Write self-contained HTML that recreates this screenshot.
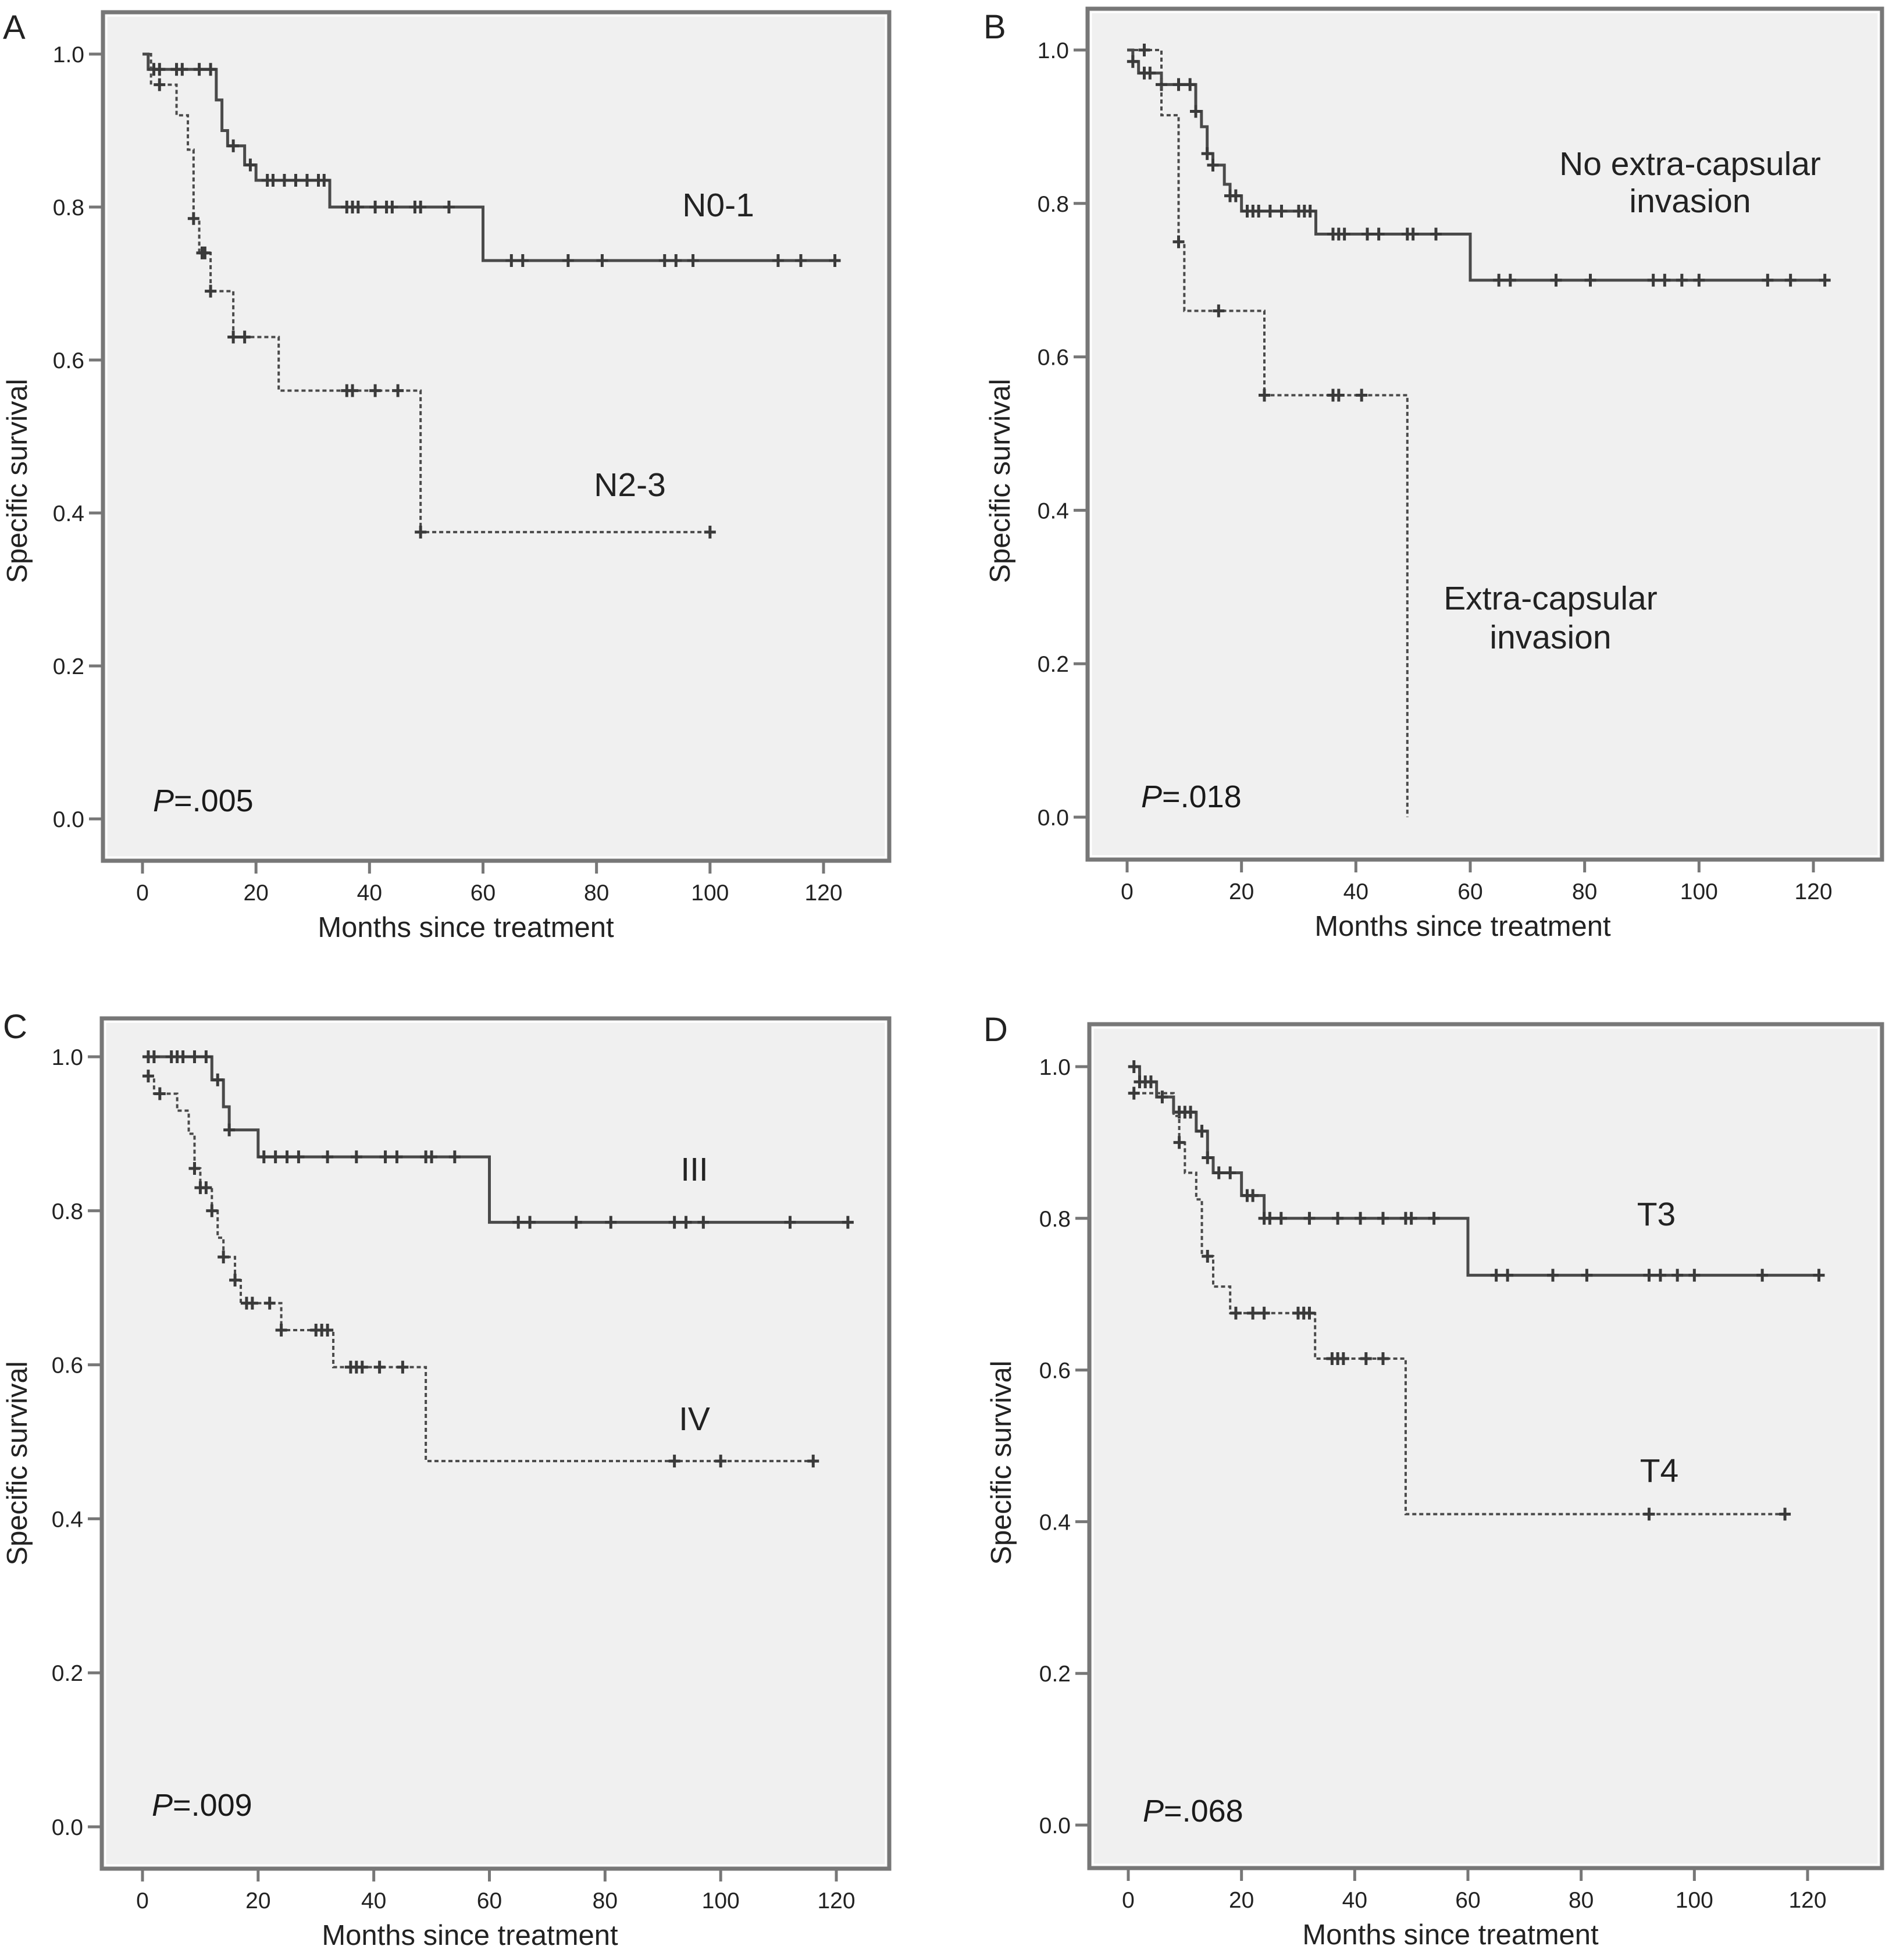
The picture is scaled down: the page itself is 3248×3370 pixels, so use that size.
<!DOCTYPE html>
<html><head><meta charset="utf-8"><style>
html,body{margin:0;padding:0;background:#fff;}
svg{display:block;font-family:"Liberation Sans",Arial,sans-serif;}
</style></head><body>
<svg id="fig" width="3248" height="3370" viewBox="0 0 3248 3370" xmlns="http://www.w3.org/2000/svg"></svg>
<script>
// ---- Data (months, survival) ----
const aSolidT=[0,1,13,14,15,18,20,33,60];
const aSolidS=[1.0,0.98,0.94,0.90,0.88,0.855,0.835,0.80,0.73];
const aSolidC=[2,3,6,7,10,12,16,19,22,23,25,27,29,31,32,36,37,38,41,43,44,48,49,54,65,67,75,81,92,94,97,112,116,122];
const aDashT=[0,1.5,6,8,9,10,12,16,24,49];
const aDashS=[1.0,0.96,0.92,0.875,0.785,0.74,0.69,0.63,0.56,0.375];
const aDashC=[3,9,10.5,11,12,16,18,36,37,41,45,49,100];

const bSolidT=[0,1,2,6,12,13,14,15,17,18,20,33,60];
const bSolidS=[1.0,0.985,0.97,0.955,0.92,0.90,0.865,0.85,0.825,0.81,0.79,0.76,0.70];
const bSolidC=[1,3,4,6,9,11,12,14,15,18,19,21,22,23,25,27,30,31,32,36,37,38,42,44,49,50,54,65,67,75,81,92,94,97,100,112,116,122];
const bDashT=[0,6,9,10,24,49];
const bDashS=[1.0,0.915,0.75,0.66,0.55,0.0];
const bDashC=[3,9,16,24,36,37,41];

const cSolidT=[0,12,14,15,20,60];
const cSolidS=[1.0,0.97,0.935,0.905,0.87,0.785];
const cSolidC=[1,2,5,6,7,9,11,13,15,21,23,25,27,32,37,42,44,49,50,54,65,67,75,81,92,94,97,112,122];
const cDashT=[0,2,6,8,9,10,12,13,14,16,17,24,33,49];
const cDashS=[0.975,0.952,0.93,0.90,0.855,0.83,0.80,0.765,0.74,0.71,0.68,0.645,0.597,0.475];
const cDashC=[1,3,9,10,11,12,14,16,18,19,22,24,30,31,32,36,37,38,41,45,92,100,116];

const dSolidT=[0,2,5,8,12,14,15,20,24,60];
const dSolidS=[1.0,0.98,0.96,0.94,0.915,0.88,0.86,0.83,0.80,0.725];
const dSolidC=[1,2,3,4,6,9,10,11,13,14,16,18,21,22,24,25,27,32,37,41,45,49,50,54,65,67,75,81,92,94,97,100,112,122];
const dDashT=[0,8,9,10,12,13,15,18,33,49];
const dDashS=[0.965,0.935,0.90,0.86,0.825,0.75,0.71,0.675,0.615,0.41];
const dDashC=[1,9,14,19,22,24,30,31,32,36,37,38,42,45,92,116];

const xTicks=[0,20,40,60,80,100,120];
const yTicks=[0,0.2,0.4,0.6,0.8,1.0];

const NS="http://www.w3.org/2000/svg";
const svg=document.getElementById('fig');
function mk(tag,attrs,parent){const e=document.createElementNS(NS,tag);for(const k in attrs)e.setAttribute(k,attrs[k]);(parent||svg).appendChild(e);return e;}

const panels=[
 {id:'a',letter:'A',lx:5,ly:67,box:[177,21,1529,1480],x0:245,x120:1416,y0:1408,y1:93,ytx:46,ytc:827,xtc:801,
  curves:[[aSolidT,aSolidS,aSolidC,false,'n0-1'],[aDashT,aDashS,aDashC,true,'n2-3']],
  labels:[['N0-1',1235,372,'middle'],['N2-3',1083,853,'middle']],p:[263,1395,'.005']},
 {id:'b',letter:'B',lx:1691,ly:66,box:[1870,15,3236,1478],x0:1938,x120:3118,y0:1405,y1:86,ytx:1736,ytc:827,xtc:2515,
  curves:[[bSolidT,bSolidS,bSolidC,false,'no-extracapsular'],[bDashT,bDashS,bDashC,true,'extracapsular']],
  labels:[['No extra-capsular',2906,301,'middle'],['invasion',2906,365,'middle'],['Extra-capsular',2666,1048,'middle'],['invasion',2666,1115,'middle']],p:[1962,1388,'.018']},
 {id:'c',letter:'C',lx:5,ly:1785,box:[175,1751,1529,3213],x0:245,x120:1438,y0:3141,y1:1817,ytx:46,ytc:2516,xtc:808,
  curves:[[cSolidT,cSolidS,cSolidC,false,'stage-iii'],[cDashT,cDashS,cDashC,true,'stage-iv']],
  labels:[['III',1194,2030,'middle'],['IV',1194,2459,'middle']],p:[261,3122,'.009']},
 {id:'d',letter:'D',lx:1691,ly:1790,box:[1873,1761,3236,3212],x0:1940,x120:3108,y0:3138,y1:1834,ytx:1738,ytc:2515,xtc:2494,
  curves:[[dSolidT,dSolidS,dSolidC,false,'t3'],[dDashT,dDashS,dDashC,true,'t4']],
  labels:[['T3',2848,2107,'middle'],['T4',2853,2548,'middle']],p:[1965,3132,'.068']}
];

panels.forEach(P=>{
  const g=mk('g',{});
  
  
  const X=t=>P.x0+(P.x120-P.x0)*t/120;
  const Y=s=>P.y0+(P.y1-P.y0)*s;
  const [L,T,R,B]=P.box;
  const bg=mk('rect',{x:L,y:T,width:R-L,height:B-T,fill:'#f0f0f0',stroke:'#777','stroke-width':7},g);
  
  
  mk('rect',{x:L+6,y:T+6,width:R-L-12,height:B-T-12,fill:'none',stroke:'#fff','stroke-width':3},g);
  const lt=mk('text',{x:P.lx,y:P.ly,'font-size':58,fill:'#222'},g);lt.textContent=P.letter;
  
  
  yTicks.forEach(v=>{
    mk('line',{x1:L-24,x2:L,y1:Y(v),y2:Y(v),stroke:'#777','stroke-width':5},g);
    const t=mk('text',{x:L-32,y:Y(v)+14,'font-size':39,'text-anchor':'end',fill:'#222'},g);t.textContent=v.toFixed(1);
    
    
  });
  xTicks.forEach(v=>{
    mk('line',{x1:X(v),x2:X(v),y1:B,y2:B+22,stroke:'#777','stroke-width':5},g);
    const t=mk('text',{x:X(v),y:B+68,'font-size':39,'text-anchor':'middle',fill:'#222'},g);t.textContent=v;
    
    
  });
  const xt=mk('text',{x:P.xtc,y:B+131,'font-size':49,'text-anchor':'middle',fill:'#222'},g);xt.textContent='Months since treatment';
  
  
  const yt=mk('text',{x:P.ytx,y:P.ytc,'font-size':49,'text-anchor':'middle',fill:'#222',transform:`rotate(-90 ${P.ytx} ${P.ytc})`},g);yt.textContent='Specific survival';
  
  
  P.curves.forEach(([ts,ss,cs,dash,name])=>{
    const sAt=t=>{let s=ss[0];for(let i=0;i<ts.length;i++){if(ts[i]<=t)s=ss[i];}return s;};
    const end=Math.max(ts[ts.length-1],cs.length?Math.max(...cs):0);
    let d=`M${X(ts[0])},${Y(ss[0])}`;
    for(let i=1;i<ts.length;i++){d+=` H${X(ts[i])} V${Y(ss[i])}`;}
    d+=` H${X(end)}`;
    const path=mk('path',{d:d,fill:'none',stroke:'#4a4a4a','stroke-width':dash?4:5,'stroke-dasharray':dash?'7,5':'none'},g);
    
    
    cs.forEach(c=>{
      const cx=X(c),cy=Y(sAt(c));
      const m=mk('path',{d:`M${cx-10},${cy} H${cx+10} M${cx},${cy-11} V${cy+11}`,stroke:'#3a3a3a','stroke-width':5},g);
      
      
    });
  });
  P.labels.forEach(([txt,x,y,a])=>{
    const t=mk('text',{x:x,y:y,'font-size':57,'text-anchor':a,fill:'#222'},g);t.textContent=txt;
    
    
  });
  const pt=mk('text',{x:P.p[0],y:P.p[1],'font-size':54,fill:'#1a1a1a'},g);
  
  
  const ti=mk('tspan',{'font-style':'italic'},pt);ti.textContent='P';
  const tr=mk('tspan',{},pt);tr.textContent='='+P.p[2];
});
</script>
</body></html>
